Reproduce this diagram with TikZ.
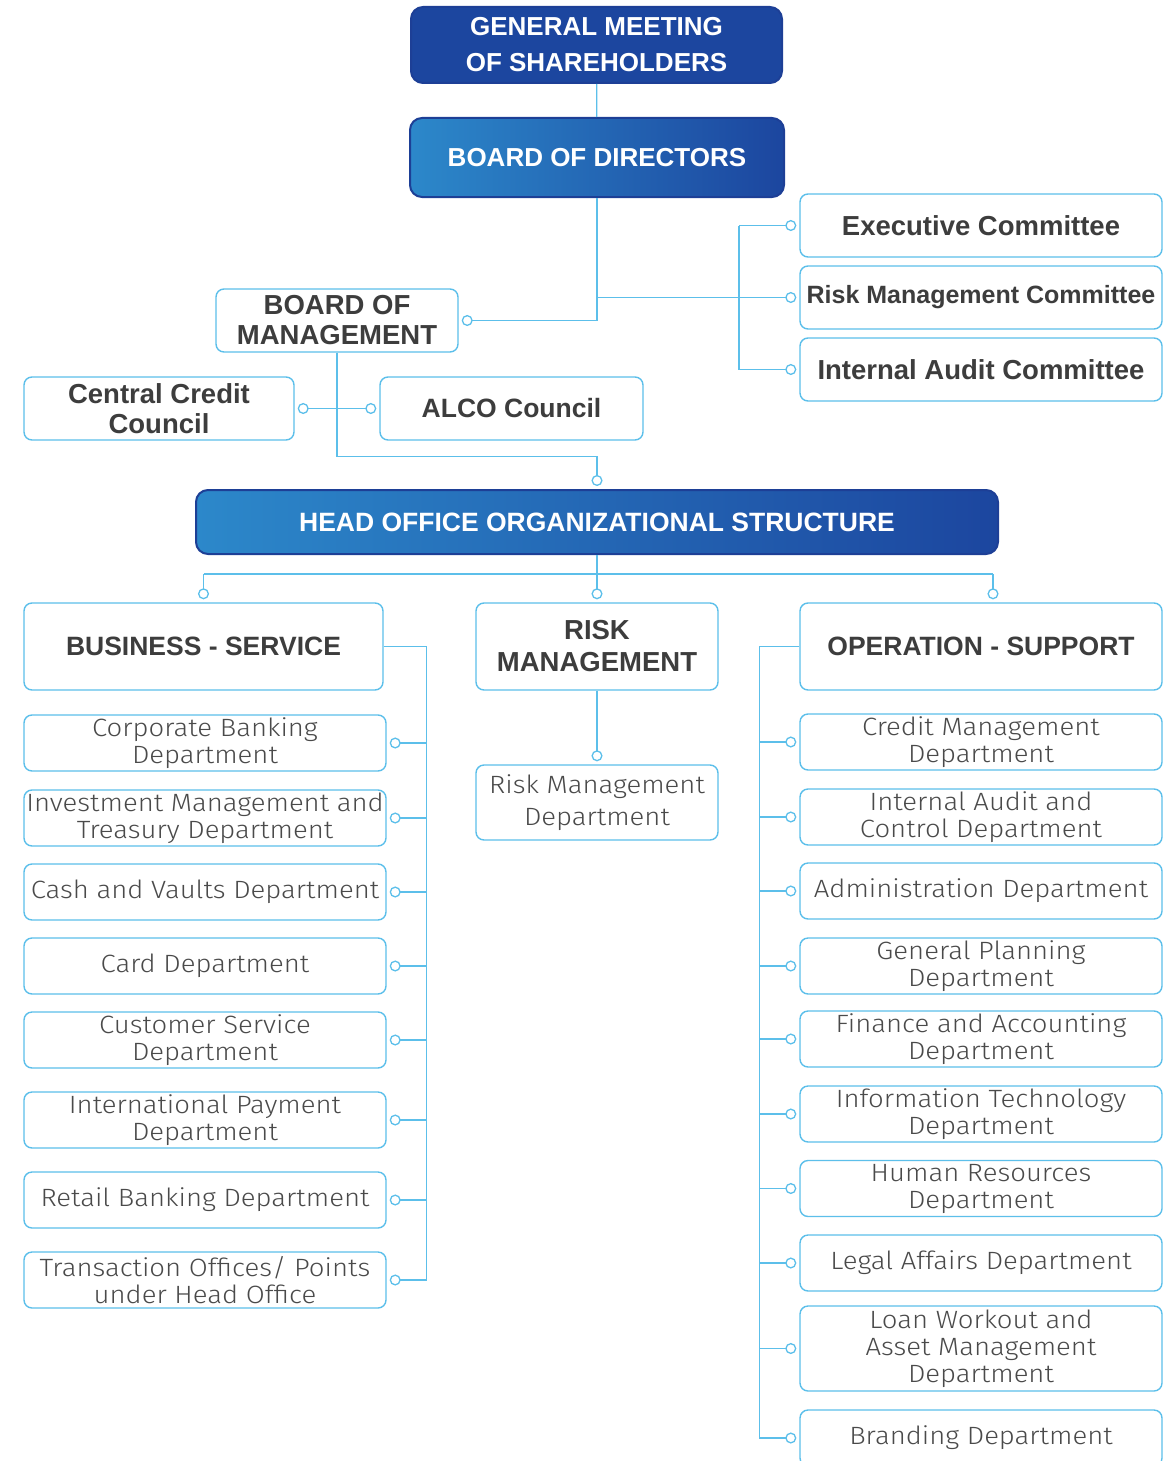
\documentclass[tikz,border=0pt]{standalone}
\usepackage{fontspec}
\setmainfont{Liberation Sans}
\newfontfamily\deptfont[FakeStretch=1.1]{Fira Sans Light}
\usetikzlibrary{arrows.meta}

\begin{document}
\begin{tikzpicture}[x=1pt,y=-1pt,
    box/.style={draw=lineblue, line width=1.4pt, rounded corners=8pt, fill=white,
      inner sep=0pt, align=center, text=ink},
    head/.style={box, font=\fontsize{26.5}{30}\selectfont\bfseries},
    bighead/.style={box, font=\fontsize{27.5}{30}\selectfont\bfseries},
    dept/.style={box, minimum width=362pt, minimum height=56pt,
      font=\deptfont\fontsize{25}{27}\selectfont, text=inklight},
    bluebox/.style={draw=navy, line width=2pt, rounded corners=12pt, inner sep=0pt,
      align=center, text=white, font=\fontsize{26}{36}\selectfont\bfseries},
    shadebox/.style={bluebox, left color=skyblue, middle color=midblue, right color=deepblue},
    link/.style={draw=lineblue, line width=1.3pt},
    dot/.style={-{Circle[fill=white,length=11pt,width=11pt]}, shorten >=3pt},
    dots/.style={{Circle[fill=white,length=11pt,width=11pt]}-{Circle[fill=white,length=11pt,width=11pt]},
      shorten >=3pt, shorten <=3pt}]
  \definecolor{lineblue}{HTML}{5CBFEA}
  \definecolor{ink}{HTML}{3D3D3D}
  \definecolor{inklight}{HTML}{4A4A4A}
  \definecolor{navy}{HTML}{1D3F96}
  \definecolor{skyblue}{HTML}{2C88CA}
  \definecolor{midblue}{HTML}{1670B8}
  \definecolor{deepblue}{HTML}{1C469F}
  \clip (0,0) rectangle (1169,1461);

  % top of the tree
  \node[bluebox, fill=deepblue, minimum width=371pt, minimum height=76pt]
    (gms) at (596.5,45) {GENERAL MEETING\\OF SHAREHOLDERS};
  \node[shadebox, minimum width=374pt, minimum height=79pt]
    (bod) at (597,157.5) {BOARD OF DIRECTORS};

  % committees
  \node[bighead, minimum width=362pt, minimum height=63pt] (exec) at (981,225.5) {Executive Committee};
  \node[head, minimum width=362pt, minimum height=63pt, font=\fontsize{25}{30}\selectfont\bfseries]
    (riskc) at (981,297.5) {Risk Management Committee};
  \node[bighead, minimum width=362pt, minimum height=63pt] (audit) at (981,369.5) {Internal Audit Committee};

  \node[bighead, minimum width=242pt, minimum height=63pt] (bom) at (337,320.5) {BOARD OF\\MANAGEMENT};
  \node[bighead, minimum width=270pt, minimum height=63pt] (ccc) at (159,408.5) {Central Credit\\Council};
  \node[head, minimum width=263pt, minimum height=63pt] (alco) at (511.5,408.5) {ALCO Council};

  \node[shadebox, minimum width=802pt, minimum height=64pt, font=\fontsize{26.5}{30}\selectfont\bfseries]
    (hq) at (597,522) {HEAD OFFICE ORGANIZATIONAL STRUCTURE};

  % the three blocks
  \node[head, minimum width=359pt, minimum height=87pt] (biz) at (203.5,646.5) {BUSINESS - SERVICE};
  \node[bighead, minimum width=242pt, minimum height=87pt, font=\fontsize{27.5}{32}\selectfont\bfseries]
    (risk) at (597,646.5) {RISK\\MANAGEMENT};
  \node[head, minimum width=362pt, minimum height=87pt] (ops) at (981,646.5) {OPERATION - SUPPORT};

  \node[dept, minimum width=242pt, minimum height=75pt, font=\deptfont\fontsize{25}{32}\selectfont]
    (rmd) at (597,802.5) {Risk Management\\Department};

  \foreach \n/\y/\txt in {1/743/{Corporate Banking\\Department},
      2/818/{Investment Management and\\Treasury Department},
      3/892/{Cash and Vaults Department},
      4/966/{Card Department},
      5/1040/{Customer Service\\Department},
      6/1120/{International Payment\\Department},
      7/1200/{Retail Banking Department},
      8/1280/{Transaction Offices/ Points\\under Head Office}}
    \node[dept] (b\n) at (205,\y) {\txt};

  \foreach \n/\y/\txt in {1/742/{Credit Management\\Department},
      2/817/{Internal Audit and\\Control Department},
      3/891/{Administration Department},
      4/966/{General Planning\\Department},
      5/1039/{Finance and Accounting\\Department},
      6/1114/{Information Technology\\Department},
      7/1188.5/{Human Resources\\Department},
      8/1263/{Legal Affairs Department},
      10/1438/{Branding Department}}
    \node[dept] (o\n) at (981,\y) {\txt};
  \node[dept, minimum height=85pt] (o9) at (981,1348.5) {Loan Workout and\\Asset Management\\Department};

  % connectors
  \draw[link] (gms) -- (bod);
  \draw[link, dot] (bod.south) |- (bom.east);
  \draw[link, dot] (bod.south |- riskc) -- (riskc.west);
  \coordinate (cbus) at (739,0);
  \draw[link] (cbus |- exec) -- (cbus |- audit);
  \draw[link, dot] (cbus |- exec) -- (exec.west);
  \draw[link, dot] (cbus |- audit) -- (audit.west);
  \draw[link, dots] (ccc.east) -- (alco.west);
  \draw[link, dot] (bom.south) -- ++(0,104) -| (hq.north);

  \draw[link] (hq.south) -- ++(0,19) coordinate (hqbus);
  \draw[link] (hqbus -| biz.north) -- (hqbus -| ops.north) -- ++(12,0);
  \draw[link, dot] (hqbus -| biz.north) -- (biz.north);
  \draw[link, dot] (hqbus) -- (risk.north);
  \draw[link, dot] ([xshift=12pt]hqbus -| ops.north) -- ([xshift=12pt]ops.north);
  \draw[link, dot] (risk.south) -- (rmd.north);

  \draw[link] (biz.east) -- ++(43,0) coordinate (bbus) -- (bbus |- b8);
  \foreach \n in {1,...,8}
    \draw[link, dot] (bbus |- b\n) -- (b\n.east);

  \draw[link] (ops.west) -- ++(-40,0) coordinate (obus) -- (obus |- o10);
  \foreach \n in {1,...,10}
    \draw[link, dot] (obus |- o\n) -- (o\n.west);
\end{tikzpicture}
\end{document}
